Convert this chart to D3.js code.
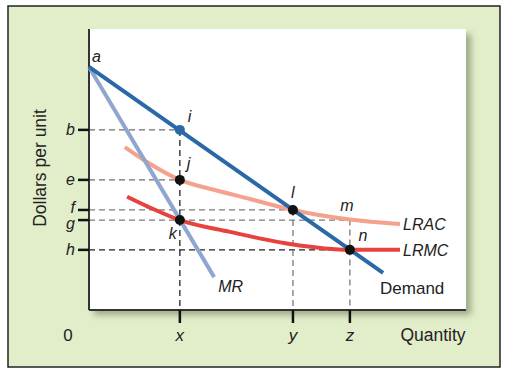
<!DOCTYPE html>
<html><head><meta charset="utf-8">
<script src="https://cdn.jsdelivr.net/npm/d3@7"></script>
<style>
body{margin:0;background:#fff;}
text{font-family:"Liberation Sans",Arial,sans-serif;}
</style></head>
<body>
<svg id="c" width="508" height="377"></svg>
<script>
// Data (quantity units 0-10, dollars 0-10)
const quantityTicks = [{label:"x", q:2.41},{label:"y", q:5.41},{label:"z", q:6.92}];
const priceTicks = [{label:"b", p:6.41, off:0},{label:"e", p:4.63, off:0},{label:"f", p:3.56, off:-3},{label:"g", p:3.20, off:3},{label:"h", p:2.14, off:0}];
const demand = [[0,8.65],[7.80,1.32]];
const mr = [[0,8.65],[3.32,1.17]];
const lrac = [[0.95,5.80],[1.56,5.25],[2.41,4.63],[3.34,4.27],[4.27,3.95],[5.41,3.56],[6.92,3.22],[8.25,3.06]];
const lrmc = [[1.01,4.03],[1.56,3.68],[2.41,3.20],[3.74,2.78],[5.33,2.35],[6.92,2.14],[8.25,2.14]];
const points = [
  {n:"i", q:2.41, p:6.41, fill:"#2a68a6"},
  {n:"j", q:2.41, p:4.63, fill:"#111"},
  {n:"k", q:2.41, p:3.20, fill:"#111"},
  {n:"l", q:5.41, p:3.56, fill:"#111"},
  {n:"n", q:6.92, p:2.14, fill:"#111"}
];
const hGuides = [
  {p:6.41, q:2.41, c:"#6e6e6e"},
  {p:4.63, q:2.41, c:"#6e6e6e"},
  {p:3.56, q:5.41, c:"#7a7a7a"},
  {p:3.20, q:6.92, c:"#7a7a7a"},
  {p:2.14, q:6.92, c:"#222"}
];
const vGuides = [
  {q:2.41, p:6.41, c:"#222"},
  {q:5.41, p:3.56, c:"#7a7a7a"},
  {q:6.92, p:3.22, c:"#7a7a7a"}
];

const svg = d3.select("#c");
const X0=89, X1=466, Y0=310, Y1=29;
const x = d3.scaleLinear().domain([0,10]).range([X0,X1]);
const y = d3.scaleLinear().domain([0,10]).range([Y0,Y1]);

const defs = svg.append("defs");
const f = defs.append("filter").attr("id","sh").attr("x","-10%").attr("y","-10%").attr("width","130%").attr("height","130%");
f.append("feDropShadow").attr("dx",5).attr("dy",5).attr("stdDeviation",3).attr("flood-color","#7f8f6a").attr("flood-opacity",0.7);

svg.append("rect").attr("x",8).attr("y",6).attr("width",492).attr("height",361)
  .attr("fill","#e2edca").attr("stroke","#222").attr("stroke-width",1.5);
svg.append("rect").attr("x",X0).attr("y",Y1).attr("width",X1-X0).attr("height",Y0-Y1)
  .attr("fill","#fff").attr("filter","url(#sh)");

const g = svg.append("g");
hGuides.forEach(d=>{
  g.append("line").attr("x1",x(0)).attr("x2",x(d.q)).attr("y1",y(d.p)).attr("y2",y(d.p))
   .attr("stroke",d.c).attr("stroke-width",1.3).attr("stroke-dasharray","6,4");
});
vGuides.forEach(d=>{
  g.append("line").attr("x1",x(d.q)).attr("x2",x(d.q)).attr("y1",y(d.p)).attr("y2",y(0))
   .attr("stroke",d.c).attr("stroke-width",1.3).attr("stroke-dasharray","6,4");
});

svg.append("line").attr("x1",X0).attr("x2",X0).attr("y1",Y1).attr("y2",Y0).attr("stroke","#333").attr("stroke-width",2);
svg.append("line").attr("x1",X0).attr("x2",X1).attr("y1",Y0).attr("y2",Y0).attr("stroke","#333").attr("stroke-width",2);

priceTicks.forEach(d=>{
  svg.append("line").attr("x1",X0-11).attr("x2",X0).attr("y1",y(d.p)).attr("y2",y(d.p)).attr("stroke","#111").attr("stroke-width",2.5);
  svg.append("text").attr("x",X0-14).attr("y",y(d.p)+d.off).attr("dy","0.35em").attr("text-anchor","end")
   .attr("font-size",16).attr("font-style","italic").attr("fill","#222").text(d.label);
});
quantityTicks.forEach(d=>{
  svg.append("line").attr("x1",x(d.q)).attr("x2",x(d.q)).attr("y1",Y0).attr("y2",Y0+13).attr("stroke","#111").attr("stroke-width",2.5);
  svg.append("text").attr("x",x(d.q)).attr("y",341).attr("text-anchor","middle")
   .attr("font-size",17).attr("font-style","italic").attr("fill","#222").text(d.label);
});
svg.append("text").attr("x",68).attr("y",341).attr("text-anchor","middle").attr("font-size",17).attr("fill","#222").text("0");
svg.append("text").attr("x",433).attr("y",341).attr("text-anchor","middle").attr("font-size",17.5).attr("fill","#222").text("Quantity");
svg.append("text").attr("transform","translate(46,168) rotate(-90)").attr("text-anchor","middle").attr("font-size",17.5).attr("fill","#222").text("Dollars per unit");

const line = d3.line().x(d=>x(d[0])).y(d=>y(d[1]));
const smooth = d3.line().x(d=>x(d[0])).y(d=>y(d[1])).curve(d3.curveMonotoneX);
svg.append("path").attr("d",smooth(lrac)).attr("fill","none").attr("stroke","#f4a28e").attr("stroke-width",4);
svg.append("path").attr("d",smooth(lrmc)).attr("fill","none").attr("stroke","#e8423f").attr("stroke-width",4);
svg.append("path").attr("d",line(mr)).attr("fill","none").attr("stroke","#8fa6cf").attr("stroke-width",4);
svg.append("path").attr("d",line(demand)).attr("fill","none").attr("stroke","#2a68a6").attr("stroke-width",4);

points.forEach(d=>{
  svg.append("circle").attr("cx",x(d.q)).attr("cy",y(d.p)).attr("r",5).attr("fill",d.fill);
});

const labs = [
  {t:"a", q:0, p:8.65, dx:3, dy:-5, it:true, a:"start", s:16},
  {t:"i", q:2.41, p:6.41, dx:8, dy:-8, it:true, a:"start", s:16},
  {t:"j", q:2.41, p:4.63, dx:7, dy:-11, it:true, a:"start", s:16},
  {t:"k", q:2.41, p:3.20, dx:-3, dy:19, it:true, a:"end", s:16},
  {t:"l", q:5.41, p:3.56, dx:-2, dy:-12, it:true, a:"start", s:16},
  {t:"m", q:6.92, p:3.22, dx:-3, dy:-9, it:true, a:"middle", s:16},
  {t:"n", q:6.92, p:2.14, dx:13, dy:-9, it:true, a:"middle", s:16},
  {t:"LRAC", q:8.25, p:3.06, dx:3, dy:6, it:true, a:"start", s:16},
  {t:"LRMC", q:8.25, p:2.14, dx:3, dy:6, it:true, a:"start", s:16},
  {t:"MR", q:3.32, p:1.17, dx:4, dy:15, it:true, a:"start", s:16},
  {t:"Demand", q:7.80, p:1.32, dx:-3, dy:21, it:false, a:"start", s:17}
];
labs.forEach(d=>{
  svg.append("text").attr("x",x(d.q)+d.dx).attr("y",y(d.p)+d.dy).attr("text-anchor",d.a)
   .attr("font-size",d.s).attr("font-style",d.it?"italic":"normal").attr("fill","#222").text(d.t);
});
</script>
</body></html>
